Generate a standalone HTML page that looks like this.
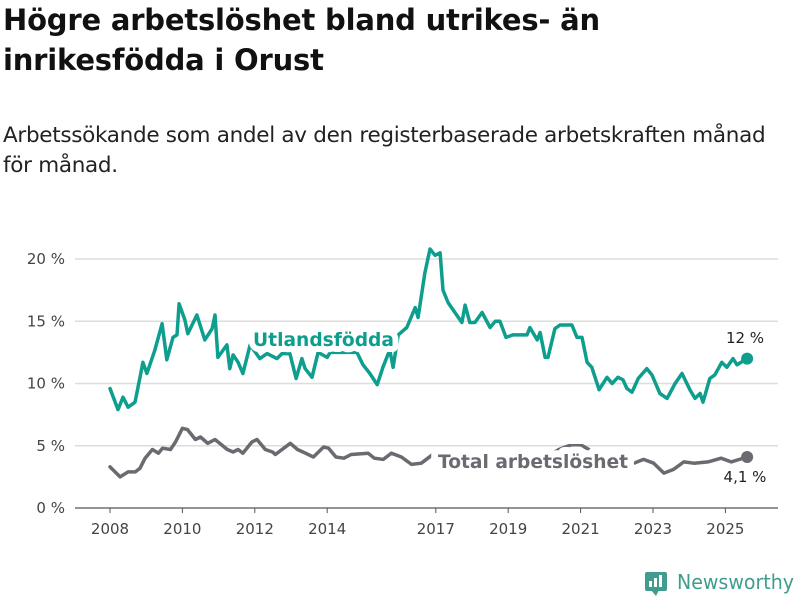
<!DOCTYPE html>
<html><head><meta charset="utf-8"><style>
body{margin:0;background:#fff;font-family:"Liberation Sans","DejaVu Sans",sans-serif;}
#wrap{position:relative;width:800px;height:600px;overflow:hidden;}
h1{position:absolute;left:3px;top:0;margin:0;font-family:"DejaVu Sans",sans-serif;font-weight:bold;font-size:29px;line-height:40px;color:#111;letter-spacing:-0.2px}
.sub{position:absolute;left:3px;top:121px;margin:0;font-family:"DejaVu Sans",sans-serif;font-size:21.5px;line-height:30px;color:#222;letter-spacing:-0.3px}
</style></head><body>
<div id="wrap">
<h1>Högre arbetslöshet bland utrikes- än<br>inrikesfödda i Orust</h1>
<p class="sub">Arbetssökande som andel av den registerbaserade arbetskraften månad<br>för månad.</p>
<svg id="chart" width="800" height="600" style="position:absolute;left:0;top:0"></svg>
</div>
<script>
const yTicks=[0,5,10,15,20];
const yTickLabels=["0 %","5 %","10 %","15 %","20 %"];
const xTicks=[2008,2010,2012,2014,2017,2019,2021,2023,2025];
const xTickLabels=["2008","2010","2012","2014","2017","2019","2021","2023","2025"];
const foreignDates=[
2008.00,2008.22,2008.36,2008.50,2008.69,2008.83,2008.91,2009.02,2009.24,2009.44,
2009.57,2009.74,2009.85,2009.91,2010.07,2010.15,2010.40,2010.62,2010.82,2010.90,
2010.98,2011.23,2011.31,2011.40,2011.54,2011.67,2011.87,2012.14,2012.34,2012.61,
2012.75,2012.97,2013.14,2013.30,2013.39,2013.58,2013.75,2014.00,2014.08,2014.82,
2014.99,2015.18,2015.38,2015.54,2015.73,2015.82,2015.96,2016.20,2016.43,2016.51,
2016.70,2016.84,2016.98,2017.12,2017.20,2017.34,2017.48,2017.72,2017.81,2017.94,
2018.08,2018.28,2018.50,2018.64,2018.77,2018.94,2019.13,2019.52,2019.60,2019.80,
2019.88,2020.02,2020.10,2020.29,2020.43,2020.76,2020.90,2021.04,2021.18,2021.31,
2021.51,2021.73,2021.87,2022.03,2022.17,2022.28,2022.42,2022.59,2022.83,2022.97,
2023.19,2023.39,2023.61,2023.80,2024.02,2024.16,2024.30,2024.38,2024.57,2024.71,
2024.90,2025.04,2025.21,2025.32,2025.60];
const foreignValues=[
9.6,7.9,8.9,8.1,8.5,10.5,11.7,10.8,12.7,14.8,
11.9,13.7,13.9,16.4,15.1,14.0,15.5,13.5,14.4,15.5,
12.1,13.1,11.2,12.3,11.7,10.8,13.1,12.0,12.4,12.0,
12.4,12.4,10.4,12.0,11.2,10.5,12.5,12.1,12.5,12.5,
11.5,10.8,9.9,11.3,12.7,11.3,13.9,14.5,16.1,15.3,
18.9,20.8,20.3,20.5,17.5,16.5,15.9,14.9,16.3,14.9,
14.9,15.7,14.5,15.0,15.0,13.7,13.9,13.9,14.5,13.5,
14.1,12.1,12.1,14.4,14.7,14.7,13.7,13.7,11.7,11.3,
9.5,10.5,10.0,10.5,10.3,9.6,9.3,10.4,11.2,10.7,
9.2,8.8,10.0,10.8,9.5,8.8,9.2,8.5,10.4,10.7,
11.7,11.3,12.0,11.5,12.0];
const totalDates=[2008.0,2008.28,2008.5,2008.7,2008.83,2008.97,2009.17,2009.34,2009.45,2009.67,2009.81,2010.0,2010.14,2010.36,2010.5,2010.7,2010.9,2011.24,2011.4,2011.54,2011.67,2011.92,2012.06,2012.29,2012.49,2012.57,2012.98,2013.18,2013.4,2013.62,2013.9,2014.04,2014.24,2014.46,2014.66,2015.13,2015.3,2015.55,2015.77,2016.05,2016.33,2016.6,2016.96,2017.5,2018.0,2018.5,2019.0,2019.5,2020.0,2020.4,2020.67,2021.05,2021.35,2021.8,2022.2,2022.47,2022.74,2023.02,2023.3,2023.57,2023.85,2024.13,2024.52,2024.88,2025.16,2025.6];
const totalValues=[3.3,2.5,2.9,2.9,3.2,4.0,4.7,4.4,4.8,4.7,5.3,6.4,6.3,5.5,5.7,5.2,5.5,4.7,4.5,4.7,4.4,5.3,5.5,4.7,4.5,4.3,5.2,4.7,4.4,4.1,4.9,4.8,4.1,4.0,4.3,4.4,4.0,3.9,4.4,4.1,3.5,3.6,4.4,4.0,3.9,4.0,3.8,3.9,4.0,4.7,5.0,5.0,4.5,4.0,3.8,3.6,3.9,3.6,2.8,3.1,3.7,3.6,3.7,4.0,3.7,4.1];

const NS="http://www.w3.org/2000/svg";
const svg=document.getElementById('chart');
const X0=75,X1=778,Y0=508;
function xs(t){return 110+(t-2008)*36.2;}
function ys(v){return Y0-v*12.45;}
function mk(tag,attrs,parent){const e=document.createElementNS(NS,tag);for(const k in attrs)e.setAttribute(k,attrs[k]);(parent||svg).appendChild(e);return e;}

yTicks.forEach((v,i)=>{
  const g=mk('line',{x1:X0,x2:X1,y1:ys(v),y2:ys(v),stroke:v===0?'#555':'#ddd','stroke-width':v===0?1.2:1.5});
  
  
  const t=mk('text',{x:65,y:ys(v)+5,'text-anchor':'end','font-size':15,fill:'#444','font-family':'DejaVu Sans, sans-serif'});
  t.textContent=yTickLabels[i];
  
  
});
xTicks.forEach((v,i)=>{
  const tk=mk('line',{x1:xs(v),x2:xs(v),y1:Y0,y2:Y0+5,stroke:'#555','stroke-width':1});
  
  
  const t=mk('text',{x:xs(v),y:Y0+26,'text-anchor':'middle','font-size':15,fill:'#444','font-family':'DejaVu Sans, sans-serif'});
  t.textContent=xTickLabels[i];
  
  
});
function line(dates,vals,color,name){
  const n=Math.min(dates.length,vals.length)-1;
  let d='';
  for(let i=0;i<=n;i++)d+=(i?'L':'M')+xs(dates[i]).toFixed(1)+','+ys(vals[i]).toFixed(1);
  const p=mk('path',{d:d,fill:'none',stroke:color,'stroke-width':3.5,'stroke-linejoin':'round','stroke-linecap':'round'});
  
  
  const c=mk('circle',{cx:xs(dates[n]),cy:ys(vals[n]),r:6,fill:color});
  
  
}
const TEAL='#0e9e8e',GRAY='#6a6a70';
line(totalDates,totalValues,GRAY,'total-line');
line(foreignDates,foreignValues,TEAL,'foreign-born-line');
function label(x,y,txt,color,size,bold,anchor,name,halo,len){
  const t=mk('text',{x:x,y:y,'text-anchor':anchor,'font-size':size,fill:color,'font-family':'DejaVu Sans, sans-serif','font-weight':bold?'bold':'normal'});
  if(halo){t.setAttribute('stroke','#fff');t.setAttribute('stroke-width',halo);t.setAttribute('paint-order','stroke');t.setAttribute('stroke-linejoin','round');}
  if(len){t.setAttribute('textLength',len);t.setAttribute('lengthAdjust','spacingAndGlyphs');}
  t.textContent=txt;
  
  
}
label(253,346,'Utlandsfödda',TEAL,19,true,'start','foreign-born-label',12,141);
label(438,468,'Total arbetslöshet',GRAY,19,true,'start','total-label',14,190);
label(745,343,'12 %','#222',15,false,'middle','foreign-end-value',0);
label(745,482,'4,1 %','#222',15,false,'middle','total-end-value',0);
const lg=mk('g',{});


mk('rect',{x:645,y:572,width:22,height:19,rx:2,fill:'#3f9c8f'},lg);
mk('path',{d:'M651,590 L656,596 L659,590 Z',fill:'#3f9c8f'},lg);
mk('rect',{x:649,y:581,width:3,height:6,fill:'#fff'},lg);
mk('rect',{x:654,y:578,width:3,height:9,fill:'#fff'},lg);
mk('rect',{x:659,y:575,width:3,height:12,fill:'#fff'},lg);
const lt=mk('text',{x:677,y:589,'font-size':20,fill:'#3f9c8f','font-family':'DejaVu Sans, sans-serif',textLength:117,lengthAdjust:'spacingAndGlyphs'},lg);
lt.textContent='Newsworthy';
</script>
</body></html>
